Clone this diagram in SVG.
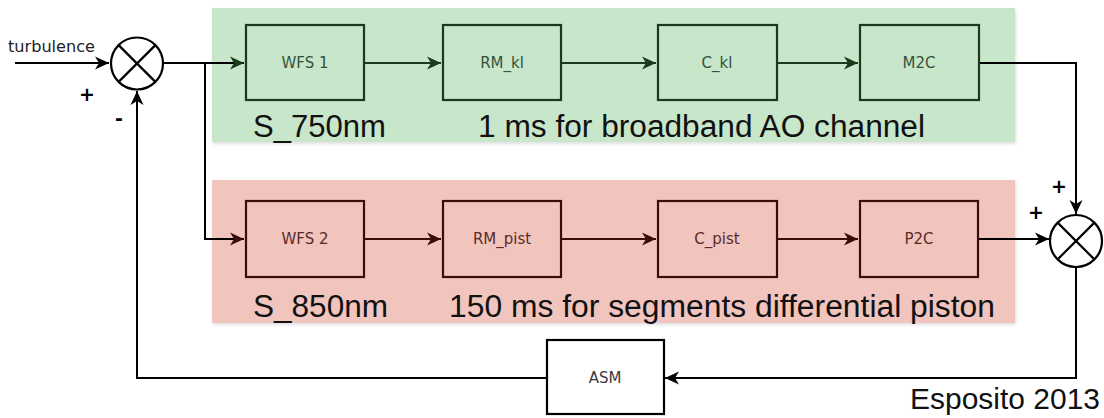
<svg xmlns="http://www.w3.org/2000/svg" width="1104" height="418" viewBox="0 0 1104 418">
  <style>
    .panel-g { fill: #c8e6c9; }
    .panel-r { fill: #f2c4be; }
    .box-g { fill: none; stroke: #1b3a1b; stroke-width: 2.2; }
    .box-r { fill: none; stroke: #3b0c0c; stroke-width: 2.2; }
    .box-k { fill: #ffffff; stroke: #000; stroke-width: 2.2; }
    .lbl { font-family: "DejaVu Sans", sans-serif; font-size: 15px; text-anchor: middle; }
    .lbl-g { fill: #34523a; }
    .lbl-r { fill: #5a2a2a; }
    .lbl-k { fill: #3a3a3a; }
    .big { font-family: "Liberation Sans", Arial, sans-serif; font-size: 31px; fill: #111; }
    .sign { font-family: "DejaVu Sans", sans-serif; font-size: 19px; font-weight: bold; fill: #000; text-anchor: middle; }
    .c-k { fill: none; stroke: #000; stroke-width: 2; }
    .c-g { fill: none; stroke: #1b3a1b; stroke-width: 2; }
    .c-r { fill: none; stroke: #3b0c0c; stroke-width: 2; }
    .sum { fill: #fff; stroke: #000; stroke-width: 2.2; }
  </style>
  <defs>
    <filter id="sh" x="-5%" y="-10%" width="110%" height="120%">
      <feDropShadow dx="1" dy="2" stdDeviation="1.5" flood-color="#000" flood-opacity="0.12"/>
    </filter>
    <marker id="ak" viewBox="-15 -7 16 14" refX="0" refY="0" markerWidth="16" markerHeight="14" markerUnits="userSpaceOnUse" orient="auto">
      <path d="M0,0 L-14,-6.5 L-10,0 L-14,6.5 Z" fill="#000"/>
    </marker>
    <marker id="ag" viewBox="-15 -7 16 14" refX="0" refY="0" markerWidth="16" markerHeight="14" markerUnits="userSpaceOnUse" orient="auto">
      <path d="M0,0 L-14,-6.5 L-10,0 L-14,6.5 Z" fill="#1b3a1b"/>
    </marker>
    <marker id="ar" viewBox="-15 -7 16 14" refX="0" refY="0" markerWidth="16" markerHeight="14" markerUnits="userSpaceOnUse" orient="auto">
      <path d="M0,0 L-14,-6.5 L-10,0 L-14,6.5 Z" fill="#3b0c0c"/>
    </marker>
  </defs>

  <rect width="1104" height="418" fill="#ffffff"/>

  <g id="panel-green">
    <rect class="panel-g" x="212" y="8" width="803" height="134" filter="url(#sh)"/>
    <text class="big" x="253" y="137" textLength="133" lengthAdjust="spacingAndGlyphs">S_750nm</text>
    <text class="big" x="478" y="137" textLength="447" lengthAdjust="spacingAndGlyphs">1 ms for broadband AO channel</text>
  </g>
  <g id="panel-red">
    <rect class="panel-r" x="212" y="180" width="803" height="143" filter="url(#sh)"/>
    <text class="big" x="253" y="317" textLength="135" lengthAdjust="spacingAndGlyphs">S_850nm</text>
    <text class="big" x="449" y="317" textLength="546" lengthAdjust="spacingAndGlyphs">150 ms for segments differential piston</text>
  </g>

  <g id="connectors">
    <path class="c-k" d="M15,63 H109" marker-end="url(#ak)"/>
    <path class="c-k" d="M163,63 H244" marker-end="url(#ag)"/>
    <path class="c-k" d="M205,63 V239 H244" marker-end="url(#ar)"/>
    <path class="c-g" d="M364,63 H441" marker-end="url(#ag)"/>
    <path class="c-g" d="M561,63 H656" marker-end="url(#ag)"/>
    <path class="c-g" d="M777,63 H858" marker-end="url(#ag)"/>
    <path class="c-k" d="M979,63 H1076 V214" marker-end="url(#ak)"/>
    <path class="c-r" d="M364,239 H441" marker-end="url(#ar)"/>
    <path class="c-r" d="M561,239 H656" marker-end="url(#ar)"/>
    <path class="c-r" d="M777,239 H858" marker-end="url(#ar)"/>
    <path class="c-k" d="M978,239 H1049" marker-end="url(#ak)"/>
    <path class="c-k" d="M1076,267 V378 H665" marker-end="url(#ak)"/>
    <path class="c-k" d="M547,378 H137 V91" marker-end="url(#ak)"/>
  </g>

  <g id="turbulence-label">
    <text x="8" y="52" font-family="DejaVu Sans, sans-serif" font-size="16" fill="#222" textLength="87" lengthAdjust="spacingAndGlyphs">turbulence</text>
  </g>

  <g id="sum1">
    <circle class="sum" cx="137" cy="63.5" r="26"/>
    <path d="M118.6,45.1 L155.4,81.9 M155.4,45.1 L118.6,81.9" stroke="#000" stroke-width="2.2"/>
    <text class="sign" x="87" y="101">+</text>
    <text class="sign" x="119" y="125">-</text>
  </g>

  <g id="sum2">
    <circle class="sum" cx="1076" cy="241" r="26"/>
    <path d="M1057.6,222.6 L1094.4,259.4 M1094.4,222.6 L1057.6,259.4" stroke="#000" stroke-width="2.2"/>
    <text class="sign" x="1059" y="193">+</text>
    <text class="sign" x="1036" y="219">+</text>
  </g>

  <g id="wfs1"><rect class="box-g" x="246" y="25" width="118" height="75"/><text class="lbl lbl-g" x="305" y="68">WFS 1</text></g>
  <g id="rm_kl"><rect class="box-g" x="443" y="25" width="118" height="75"/><text class="lbl lbl-g" x="502" y="68">RM_kl</text></g>
  <g id="c_kl"><rect class="box-g" x="658" y="25" width="119" height="75"/><text class="lbl lbl-g" x="717" y="68">C_kl</text></g>
  <g id="m2c"><rect class="box-g" x="860" y="25" width="119" height="75"/><text class="lbl lbl-g" x="919" y="68">M2C</text></g>

  <g id="wfs2"><rect class="box-r" x="246" y="201" width="118" height="76"/><text class="lbl lbl-r" x="305" y="244">WFS 2</text></g>
  <g id="rm_pist"><rect class="box-r" x="443" y="201" width="118" height="76"/><text class="lbl lbl-r" x="502" y="244">RM_pist</text></g>
  <g id="c_pist"><rect class="box-r" x="658" y="201" width="119" height="76"/><text class="lbl lbl-r" x="717" y="244">C_pist</text></g>
  <g id="p2c"><rect class="box-r" x="860" y="201" width="118" height="76"/><text class="lbl lbl-r" x="919" y="244">P2C</text></g>

  <g id="asm"><rect class="box-k" x="547" y="340" width="117" height="74"/><text class="lbl lbl-k" x="605" y="383">ASM</text></g>

  <g id="credit">
    <text x="910" y="409" font-family="Liberation Sans, Arial, sans-serif" font-size="29" fill="#111" textLength="190" lengthAdjust="spacingAndGlyphs">Esposito 2013</text>
  </g>
</svg>
